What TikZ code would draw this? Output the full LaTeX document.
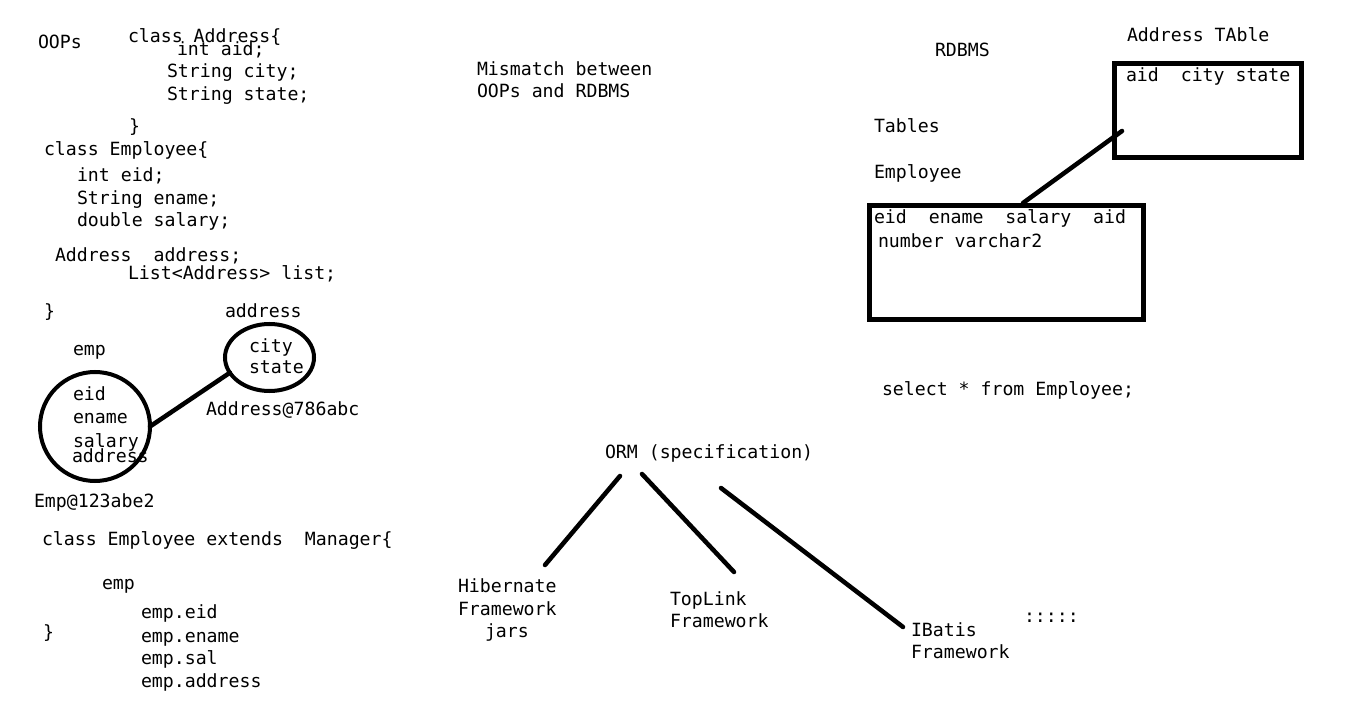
\documentclass[tikz,border=0pt]{standalone}
\usepackage{fontspec}
\newfontfamily\codefont{DejaVu Sans Mono}
\usetikzlibrary{shapes.geometric}
\begin{document}
\begin{tikzpicture}[x=0.75pt,y=-0.75pt,
  txt/.style={anchor=base west, inner sep=0pt, outer sep=0pt, font=\codefont\fontsize{13.65}{16}\selectfont},
  conn/.style={line width=3.4pt, line cap=round},
  objcircle/.style={ellipse, draw, line width=3pt, inner sep=0pt, outer sep=0pt},
  tablebox/.style={rectangle, draw, line width=3.75pt, inner sep=0pt, outer sep=0pt}]
\fill[white] (0,0) rectangle (1355,716);
\useasboundingbox (0,0) rectangle (1355,716);

% OOPs side
\node[txt] (oops) at (38,49) {OOPs};
\node[txt] (ca1) at (128,43) {class Address\{};
\node[txt] (ca2) at (177,56) {int aid;};
\node[txt] (ca3) at (167,78) {String city;};
\node[txt] (ca4) at (167,101) {String state;};
\node[txt] (ca5) at (129,133) {\}};
\node[txt] (ce1) at (44,156) {class Employee\{};
\node[txt] (ce2) at (77,182) {int eid;};
\node[txt] (ce3) at (77,205) {String ename;};
\node[txt] (ce4) at (77,227) {double salary;};
\node[txt] (ce5) at (55,262) {Address\ \ address;};
\node[txt] (ce6) at (128,280) {List<Address> list;};
\node[txt] (ce7) at (44,317) {\}};
\node[txt] (addrlbl) at (225,317) {address};
\node[txt] (emplbl) at (73,355) {emp};

\node[objcircle, minimum width=82.5pt, minimum height=81.75pt] (empc) at (95,426.5) {};
\node[objcircle, minimum width=66.75pt, minimum height=50.25pt] (addrc) at (269.5,357.5) {};
\node[txt] (f1) at (73,400) {eid};
\node[txt] (f2) at (73,423) {ename};
\node[txt] (f3) at (73,447) {salary};
\node[txt] (f4) at (72,462) {address};
\node[txt] (g1) at (249,352) {city};
\node[txt] (g2) at (249,373) {state};
\node[txt] (addrref) at (206,415) {Address@786abc};
\node[txt] (empref) at (34,507) {Emp@123abe2};
\draw[conn] (empc.east) -- (addrc.201);

\node[txt] (cx1) at (42,545) {class Employee extends\ \ Manager\{};
\node[txt] (cx2) at (102,589) {emp};
\node[txt] (cx3) at (141,618) {emp.eid};
\node[txt] (cx4) at (141,642) {emp.ename};
\node[txt] (cx5) at (141,664) {emp.sal};
\node[txt] (cx6) at (141,687) {emp.address};
\node[txt] (cx7) at (43,638) {\}};

% middle
\node[txt] (mm1) at (477,76) {Mismatch between};
\node[txt] (mm2) at (477,98) {OOPs and RDBMS};

% RDBMS side
\node[txt] (rdbms) at (935,57) {RDBMS};
\node[txt] (addrtitle) at (1127,42) {Address TAble};
\node[tablebox, minimum width=140.25pt, minimum height=70.5pt] (addrtab) at (1208,110.5) {};
\node[txt] (addrcols) at (1126,82) {aid\ \ city state};
\node[txt] (tables) at (874,133) {Tables};
\node[txt] (emptitle) at (874,179) {Employee};
\node[tablebox, minimum width=205.5pt, minimum height=85.5pt] (emptab) at (1006.5,262.5) {};
\node[txt] (empcols) at (874,224) {eid\ \ ename\ \ salary\ \ aid};
\node[txt] (emptypes) at (878,248) {number varchar2};
\draw[conn] ([shift={(7.5,20.5)}]addrtab.west) -- ([shift={(16.5,-2.5)}]emptab.north);
\node[txt] (sel) at (882,395) {select * from Employee;};

% ORM
\node[txt] (orm) at (605,458) {ORM (specification)};
\node[txt] (hib1) at (458,592) {Hibernate};
\node[txt] (hib2) at (458,615) {Framework};
\node[txt] (hib3) at (485,637) {jars};
\node[txt] (top1) at (670,605) {TopLink};
\node[txt] (top2) at (670,627) {Framework};
\node[txt] (iba1) at (911,636) {IBatis};
\node[txt] (iba2) at (911,658) {Framework};
\node[txt] (more) at (1024,622) {:::::};
\draw[conn] ([shift={(15,18)}]orm.base west) -- ([shift={(87,-27)}]hib1.base west);
\draw[conn] ([shift={(37,16)}]orm.base west) -- ([shift={(64,-33)}]top1.base west);
\draw[conn] ([shift={(116,30)}]orm.base west) -- ([shift={(-8,-9)}]iba1.base west);
\end{tikzpicture}
\end{document}
